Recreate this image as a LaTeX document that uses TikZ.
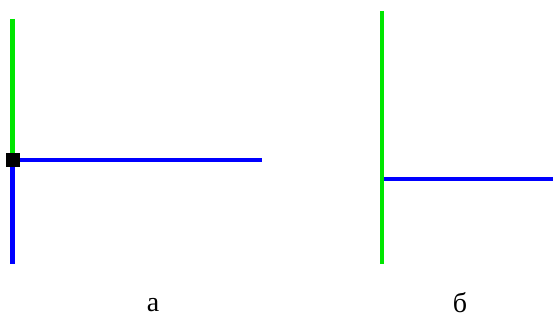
\documentclass[tikz,border=0pt]{standalone}
\usepackage{fontspec}
\setmainfont{Liberation Serif}
\begin{document}
\begin{tikzpicture}[x=1pt,y=1pt,
  gline/.style={draw={rgb,255:red,0;green,230;blue,0}, line width=4.2pt},
  bline/.style={draw={rgb,255:red,0;green,0;blue,255}, line width=4.2pt},
  lbl/.style={font=\fontsize{28}{32}\selectfont, inner sep=0pt}]
\useasboundingbox (0,0) rectangle (553,322);
% left figure
\coordinate (aT) at (12.5,303);
\coordinate (aJ) at (12.5,162);
\coordinate (aB) at (12.5,58);
\coordinate (aR) at (262,162);
\draw[gline] (aT) -- (aJ);
\draw[bline] (aJ) -- (aB);
\draw[bline] (aJ) -- (aR);
\node[fill=black, minimum size=14pt, inner sep=0pt] (sq) at (aJ) {};
% right figure
\coordinate (bT) at (382,311);
\coordinate (bB) at (382,58);
\coordinate (bJ) at (384,143);
\coordinate (bR) at (553,143);
\draw[bline] (bJ) -- (bR);
\draw[gline] (bT) -- (bB);
\node[lbl] (la) at (153,17) {а};
\node[lbl] (lb) at (460,19) {б};
\end{tikzpicture}
\end{document}
